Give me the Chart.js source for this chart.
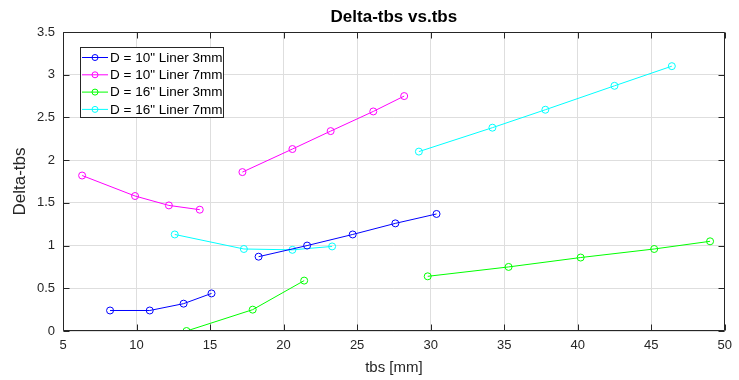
<!DOCTYPE html>
<html>
<head>
<meta charset="utf-8">
<script src="https://cdn.jsdelivr.net/npm/chart.js@4/dist/chart.umd.min.js"></script>
<style>
  html, body { margin: 0; padding: 0; background: #fff; }
  #wrap { width: 739px; height: 380px; }
</style>
</head>
<body>
<div id="wrap"><canvas id="chart" width="739" height="380"></canvas></div>
<script>
// values, each series has two separate segments
const seriesNames = ['D = 10" Liner 3mm', 'D = 10" Liner 7mm', 'D = 16" Liner 3mm', 'D = 16" Liner 7mm'];
const seriesColors = ['#0000ff', '#ff00ff', '#00ff00', '#00ffff'];

const d10l3X = [[8.2, 10.9, 13.2, 15.1], [18.3, 21.6, 24.7, 27.6, 30.4]];
const d10l3Y = [[0.24, 0.24, 0.32, 0.44], [0.87, 1.0, 1.13, 1.26, 1.37]];

const d10l7X = [[6.3, 9.9, 12.2, 14.3], [17.2, 20.6, 23.2, 26.1, 28.2]];
const d10l7Y = [[1.82, 1.58, 1.47, 1.42], [1.86, 2.13, 2.34, 2.57, 2.75]];

const d16l3X = [[13.4, 17.9, 21.4], [29.8, 35.3, 40.2, 45.2, 49.0]];
const d16l3Y = [[0.0, 0.25, 0.59], [0.64, 0.75, 0.86, 0.96, 1.05]];

const d16l7X = [[12.6, 17.3, 20.6, 23.3], [29.2, 34.2, 37.8, 42.5, 46.4]];
const d16l7Y = [[1.13, 0.96, 0.95, 0.99], [2.10, 2.38, 2.59, 2.87, 3.10]];

const xTicks = [5, 10, 15, 20, 25, 30, 35, 40, 45, 50];
const yTicks = [0, 0.5, 1, 1.5, 2, 2.5, 3, 3.5];

const titleText = 'Delta-tbs vs.tbs';
const xLabel = 'tbs [mm]';
const yLabel = 'Delta-tbs';

const FONT = "'Liberation Sans', Arial, Helvetica, sans-serif";
const AXIS_COLOR = '#262626';

function buildDatasets() {
  const all = [[d10l3X, d10l3Y], [d10l7X, d10l7Y], [d16l3X, d16l3Y], [d16l7X, d16l7Y]];
  const out = [];
  all.forEach(([xs, ys], i) => {
    xs.forEach((seg, j) => {
      out.push({
        label: seriesNames[i],
        firstSegment: j === 0,
        data: seg.map((x, k) => ({ x: x, y: ys[j][k] })),
        showLine: true,
        borderColor: seriesColors[i],
        backgroundColor: 'rgba(0,0,0,0)',
        borderWidth: 1,
        pointRadius: 3.5,
        pointBorderWidth: 1,
        pointBorderColor: seriesColors[i],
        pointBackgroundColor: 'rgba(0,0,0,0)',
        tension: 0
      });
    });
  });
  return out;
}

// MATLAB-like frame, inward ticks, titles and legend box
const matlabLook = {
  id: 'matlabLook',
  afterDraw(chart) {
    const ctx = chart.ctx;
    const a = chart.chartArea;
    const xs = chart.scales.x;
    const ys = chart.scales.y;
    const L = Math.round(a.left) + 0.5, R = Math.round(a.right) - 0.5;
    const T = Math.round(a.top) + 0.5, B = Math.round(a.bottom) - 0.5;
    const tl = 6;

    ctx.save();
    ctx.strokeStyle = AXIS_COLOR;
    ctx.lineWidth = 1;
    ctx.beginPath();
    ctx.rect(L, T, R - L, B - T);
    xTicks.forEach(v => {
      const px = Math.round(xs.getPixelForValue(v)) + 0.5;
      ctx.moveTo(px, B); ctx.lineTo(px, B - tl);
      ctx.moveTo(px, T); ctx.lineTo(px, T + tl);
    });
    yTicks.forEach(v => {
      const py = Math.round(ys.getPixelForValue(v)) + 0.5;
      ctx.moveTo(L, py); ctx.lineTo(L + tl, py);
      ctx.moveTo(R, py); ctx.lineTo(R - tl, py);
    });
    ctx.stroke();

    // title
    ctx.fillStyle = '#000';
    ctx.font = 'bold 17px ' + FONT;
    ctx.textAlign = 'center';
    ctx.textBaseline = 'middle';
    ctx.fillText(titleText, (a.left + a.right) / 2, 17);

    // axis labels
    ctx.fillStyle = AXIS_COLOR;
    ctx.font = '15px ' + FONT;
    ctx.fillText(xLabel, (a.left + a.right) / 2, 368);
    ctx.save();
    ctx.translate(20, (a.top + a.bottom) / 2);
    ctx.rotate(-Math.PI / 2);
    ctx.font = '17px ' + FONT;
    ctx.fillText(yLabel, 0, 0);
    ctx.restore();

    // legend
    const bx = 80.5, by = 47.5, bw = 143, bh = 70;
    ctx.fillStyle = '#fff';
    ctx.fillRect(bx, by, bw, bh);
    ctx.strokeStyle = AXIS_COLOR;
    ctx.strokeRect(bx, by, bw, bh);
    ctx.font = '13.5px ' + FONT;
    ctx.textAlign = 'left';
    const firsts = chart.data.datasets.filter(d => d.firstSegment);
    firsts.forEach((d, i) => {
      const y = 57.5 + i * 17.3;
      ctx.strokeStyle = d.borderColor;
      ctx.beginPath();
      ctx.moveTo(82, y); ctx.lineTo(108, y);
      ctx.stroke();
      ctx.beginPath();
      ctx.arc(95, y, 3, 0, Math.PI * 2);
      ctx.stroke();
      ctx.fillStyle = '#000';
      ctx.fillText(d.label, 110, y + 0.5);
    });
    ctx.restore();
  }
};

new Chart(document.getElementById('chart').getContext('2d'), {
  type: 'scatter',
  data: { datasets: buildDatasets() },
  options: {
    responsive: false,
    devicePixelRatio: 1,
    animation: false,
    layout: { padding: { top: 32, right: 8, left: 0, bottom: 0 } },
    plugins: {
      legend: { display: false },
      title: { display: false },
      tooltip: { enabled: false }
    },
    scales: {
      x: {
        type: 'linear',
        min: 5,
        max: 50,
        afterBuildTicks: scale => { scale.ticks = xTicks.map(v => ({ value: v })); },
        afterFit: scale => { scale.height = 49; },
        ticks: {
          color: AXIS_COLOR,
          font: { family: FONT, size: 13 },
          padding: 7,
          maxRotation: 0,
          callback: v => String(v)
        },
        grid: { color: '#dedede', drawTicks: false },
        border: { display: false }
      },
      y: {
        type: 'linear',
        min: 0,
        max: 3.5,
        afterBuildTicks: scale => { scale.ticks = yTicks.map(v => ({ value: v })); },
        afterFit: scale => { scale.width = 63; },
        ticks: {
          color: AXIS_COLOR,
          font: { family: FONT, size: 13 },
          padding: 8,
          callback: v => String(v)
        },
        grid: { color: '#dedede', drawTicks: false },
        border: { display: false }
      }
    }
  },
  plugins: [matlabLook]
});
</script>
</body>
</html>
